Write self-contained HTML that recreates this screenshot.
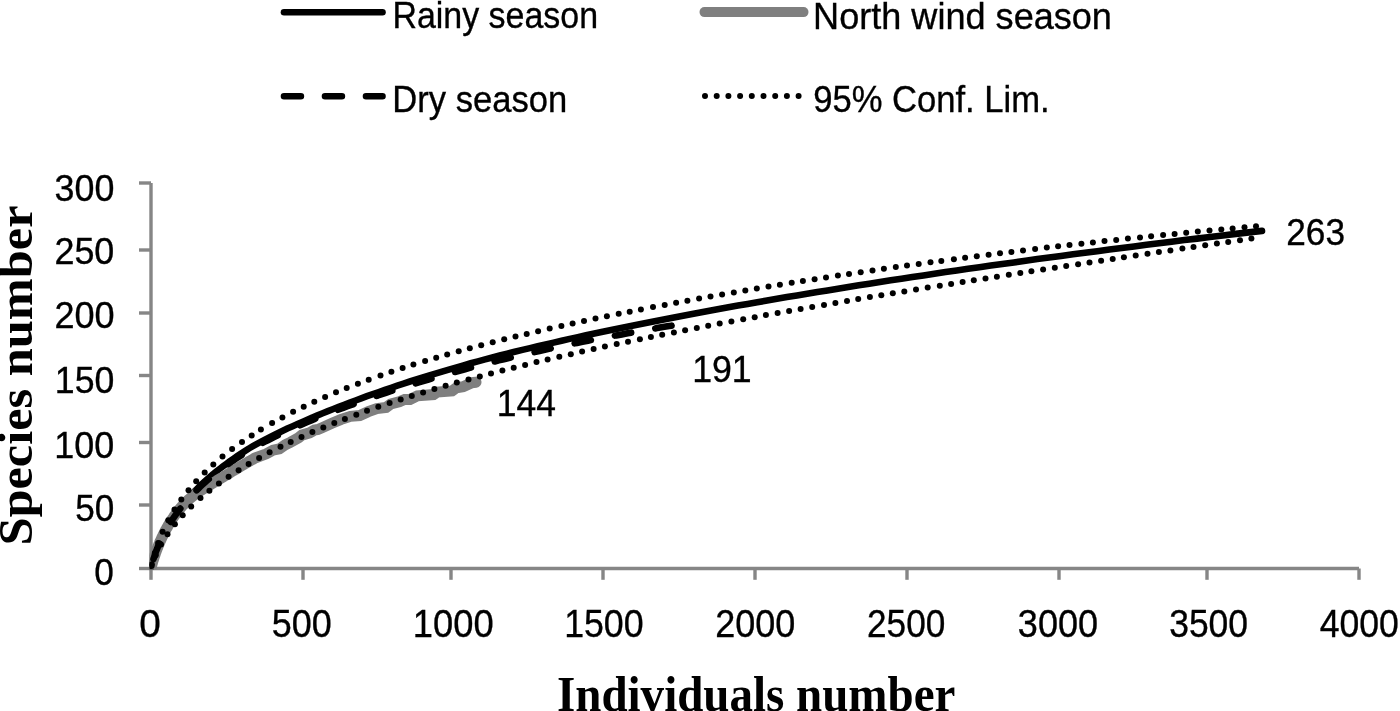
<!DOCTYPE html>
<html><head><meta charset="utf-8"><style>
html,body{margin:0;padding:0;background:#fff;width:1400px;height:711px;overflow:hidden}
svg{display:block;will-change:transform}
text{font-kerning:normal}
</style></head><body>
<svg width="1400" height="711" viewBox="0 0 1400 711">
<rect width="1400" height="711" fill="#fff"/>
<defs><clipPath id="pa"><rect x="149.5" y="100" width="1250" height="469.5"/></clipPath></defs>
<line x1="284" y1="12.3" x2="382.5" y2="12.3" stroke="#000" stroke-width="6.6" stroke-linecap="round"/>
<line x1="284" y1="96.3" x2="382.5" y2="96.3" stroke="#000" stroke-width="6.6" stroke-linecap="round" stroke-dasharray="16.9 24.1"/>
<line x1="704.5" y1="12.1" x2="803.5" y2="12.1" stroke="#7f7f7f" stroke-width="10" stroke-linecap="round"/>
<line x1="705" y1="96" x2="799" y2="96" stroke="#000" stroke-width="6" stroke-linecap="round" stroke-dasharray="0 11.7"/>
<g font-family='"Liberation Sans", sans-serif' fill='#000' stroke='#000' stroke-width='0.35'>
<text x='392.38' y='28.40' font-size='37.5' textLength='205.66' lengthAdjust='spacingAndGlyphs'>Rainy season</text>
<text x='392.34' y='112.20' font-size='37.5' textLength='174.80' lengthAdjust='spacingAndGlyphs'>Dry season</text>
<text x='813.11' y='28.60' font-size='37.5' textLength='298.84' lengthAdjust='spacingAndGlyphs'>North wind season</text>
<text x='813.17' y='112.00' font-size='37.5' textLength='236.57' lengthAdjust='spacingAndGlyphs'>95% Conf. Lim.</text>
<text x='139.15' y='637.30' font-size='39' textLength='21.55' lengthAdjust='spacingAndGlyphs'>0</text>
<text x='271.86' y='637.30' font-size='39' textLength='59.92' lengthAdjust='spacingAndGlyphs'>500</text>
<text x='412.79' y='637.30' font-size='39' textLength='80.83' lengthAdjust='spacingAndGlyphs'>1000</text>
<text x='564.14' y='637.30' font-size='39' textLength='79.45' lengthAdjust='spacingAndGlyphs'>1500</text>
<text x='715.20' y='637.30' font-size='39' textLength='80.16' lengthAdjust='spacingAndGlyphs'>2000</text>
<text x='866.99' y='637.30' font-size='39' textLength='78.33' lengthAdjust='spacingAndGlyphs'>2500</text>
<text x='1017.86' y='637.30' font-size='39' textLength='80.15' lengthAdjust='spacingAndGlyphs'>3000</text>
<text x='1169.18' y='637.30' font-size='39' textLength='78.90' lengthAdjust='spacingAndGlyphs'>3500</text>
<text x='1319.79' y='637.30' font-size='39' textLength='79.10' lengthAdjust='spacingAndGlyphs'>4000</text>
<text x='54.57' y='201.00' font-size='37.5' textLength='59.82' lengthAdjust='spacingAndGlyphs'>300</text>
<text x='54.40' y='263.50' font-size='37.5' textLength='59.98' lengthAdjust='spacingAndGlyphs'>250</text>
<text x='54.40' y='328.40' font-size='37.5' textLength='60.20' lengthAdjust='spacingAndGlyphs'>200</text>
<text x='54.85' y='393.00' font-size='37.5' textLength='59.53' lengthAdjust='spacingAndGlyphs'>150</text>
<text x='54.23' y='458.00' font-size='37.5' textLength='59.96' lengthAdjust='spacingAndGlyphs'>100</text>
<text x='75.19' y='520.80' font-size='37.5' textLength='39.09' lengthAdjust='spacingAndGlyphs'>50</text>
<text x='94.19' y='585.30' font-size='37.5' textLength='19.58' lengthAdjust='spacingAndGlyphs'>0</text>
<text x='496.86' y='416.00' font-size='37.5' textLength='59.15' lengthAdjust='spacingAndGlyphs'>144</text>
<text x='692.14' y='382.00' font-size='37.5' textLength='59.59' lengthAdjust='spacingAndGlyphs'>191</text>
<text x='1286.24' y='245.20' font-size='37.5' textLength='58.77' lengthAdjust='spacingAndGlyphs'>263</text>
</g>
<g font-family='"Liberation Serif", serif' font-weight='bold' fill='#000'>
<text x='556.99' y='710.50' font-size='50' textLength='398.41' lengthAdjust='spacingAndGlyphs'>Individuals number</text>
<text transform='translate(32.30,545.52) rotate(-90)' font-size='48' textLength='340.03' lengthAdjust='spacingAndGlyphs'>Species number</text>
</g>
<g stroke="#868686" stroke-width="3.4" fill="none">
<path d="M151,183 V568.5 H1359"/>
<path d="M151,568.5 V579.8"/>
<path d="M303,568.5 V579.8"/>
<path d="M451,568.5 V579.8"/>
<path d="M603,568.5 V579.8"/>
<path d="M755,568.5 V579.8"/>
<path d="M907,568.5 V579.8"/>
<path d="M1059,568.5 V579.8"/>
<path d="M1207,568.5 V579.8"/>
<path d="M1359,568.5 V579.8"/>
<path d="M139,568.5 H151"/>
<path d="M139,505 H151"/>
<path d="M139,442.5 H151"/>
<path d="M139,375.5 H151"/>
<path d="M139,313 H151"/>
<path d="M139,250 H151"/>
<path d="M139,183 H151"/>
</g>
<g clip-path="url(#pa)">
<path d="M151.0,568.0 L151.8,564.7 L152.7,561.5 L153.7,558.2 L154.8,555.0 L155.9,551.7 L157.1,548.5 L158.4,545.3 L159.8,542.2 L161.3,539.0 L162.8,535.8 L164.4,532.7 L166.1,529.6 L167.9,526.5 L169.7,523.4 L171.6,520.4 L173.6,517.3 L175.7,514.3 L177.8,511.3 L180.1,508.4 L182.4,505.4 L184.8,502.5 L187.2,499.5 L189.8,496.6 L192.4,493.7 L195.1,490.8 L197.9,488.0 L200.7,485.2 L203.7,482.4 L206.7,479.7 L209.8,477.0 L212.9,474.3 L216.2,471.7 L219.5,469.0 L222.9,466.4 L226.4,463.8 L229.9,461.2 L233.6,458.6 L237.3,456.1 L241.1,453.6 L245.0,451.0 L248.9,448.5 L252.9,446.2 L257.0,443.9 L261.2,441.6 L265.5,439.3 L269.8,437.1 L274.2,434.9 L278.7,432.7 L283.3,430.5 L287.9,428.3 L292.7,426.2 L297.5,424.1 L302.3,421.9 L307.3,419.7 L312.3,417.5 L317.5,415.4 L322.7,413.2 L327.9,411.1 L333.3,409.0 L338.7,406.9 L344.2,404.8 L349.8,402.7 L355.5,400.5 L361.2,398.4 L367.0,396.2 L372.9,394.1 L378.9,392.0 L384.9,389.9 L391.1,387.8 L397.3,385.7 L403.6,383.6 L409.9,381.5 L416.4,379.4 L422.9,377.4 L429.5,375.3 L436.2,373.3 L442.9,371.3 L449.7,369.3 L456.7,367.3 L463.6,365.3 L470.7,363.3 L477.9,361.4 L485.1,359.4 L492.4,357.5 L499.8,355.5 L507.2,353.6 L514.7,351.8 L522.4,349.9 L530.0,348.1 L537.8,346.2 L545.7,344.4 L553.6,342.6 L561.6,340.8 L569.7,338.9 L577.8,337.1 L586.0,335.3 L594.4,333.6 L602.7,331.8 L611.2,330.0 L619.8,328.2 L628.4,326.5 L637.1,324.7 L645.9,322.9 L654.7,321.2 L663.7,319.5 L672.7,317.7 L681.8,316.0 L690.9,314.2 L700.2,312.5 L709.5,310.8 L718.9,309.1 L728.4,307.3 L738.0,305.6 L747.6,303.9 L757.3,302.2 L767.1,300.5 L777.0,298.8 L786.9,297.1 L797.0,295.4 L807.1,293.7 L817.3,292.0 L827.5,290.4 L837.9,288.7 L848.3,287.0 L858.8,285.3 L869.3,283.7 L880.0,282.0 L890.7,280.3 L901.5,278.7 L912.4,277.0 L923.4,275.4 L934.4,273.8 L945.5,272.1 L956.7,270.5 L968.0,268.8 L979.4,267.2 L990.8,265.6 L1002.3,264.0 L1013.9,262.4 L1025.6,260.7 L1037.3,259.1 L1049.1,257.5 L1061.0,255.9 L1073.0,254.3 L1085.0,252.7 L1097.2,251.2 L1109.4,249.6 L1121.7,248.0 L1134.0,246.4 L1146.5,244.8 L1159.0,243.3 L1171.6,241.7 L1184.3,240.1 L1197.0,238.6 L1209.9,237.0 L1222.8,235.5 L1235.8,233.9 L1248.9,232.4 L1262.0,230.9" fill="none" stroke="#000" stroke-width="6.6" stroke-linecap="round" stroke-linejoin="round"/>
<path d="M151.0,568.0 L151.2,567.2 L151.4,566.3 L151.7,565.5 L151.9,564.7 L152.1,563.8 L152.4,563.0 L152.6,562.1 L152.9,561.3 L153.1,560.4 L153.4,559.6 L153.7,558.7 L153.9,557.9 L154.2,557.0 L154.5,556.1 L154.8,555.3 L155.1,554.4 L155.4,553.5 L155.7,552.6 L156.0,551.8 L156.3,550.9 L156.7,550.0 L157.0,549.2 L157.3,548.3 L157.7,547.4 L158.0,546.5 L158.4,545.7 L158.7,544.8 L159.1,543.9 L159.5,543.0 L159.8,542.2 L160.2,541.3 L160.6,540.4 L161.0,539.5 L161.4,538.7 L161.8,537.8 L162.2,536.9 L162.6,536.1 L163.0,535.2 L163.5,534.3 L163.9,533.5 L164.3,532.6 L164.8,531.7 L165.2,530.9 L165.7,530.0 L166.1,529.2 L166.6,528.3 L167.1,527.5 L167.6,526.7 L168.0,525.8 L168.5,525.0 L169.0,524.2 L169.5,523.3 L170.0,522.5 L170.5,521.7 L171.0,520.9 L171.6,520.1 L172.1,519.3 L172.6,518.5 L173.2,517.7 L173.7,516.9 L174.2,516.1 L174.8,515.3 L175.4,514.5 L175.9,513.8 L176.5,513.0 L177.1,512.3 L177.7,511.5 L178.2,510.8 L178.8,510.0 L179.4,509.3 L180.0,508.6 L180.6,507.9 L181.3,507.1 L181.9,506.4 L182.5,505.7 L183.1,505.1 L183.8,504.4 L184.4,503.7 L185.1,503.0 L185.7,502.4 L186.4,501.7 L187.0,501.1 L187.7,500.5 L188.4,499.8 L189.1,499.2 L189.8,498.6 L190.5,498.0 L191.2,497.4 L191.9,496.9 L192.6,496.3 L193.3,495.7 L194.0,495.2 L194.7,494.6 L195.5,494.1 L196.2,493.6 L196.9,493.0 L197.7,492.5 L198.4,492.0 L199.2,491.5 L200.0,491.0 L200.7,490.5 L201.5,490.0 L202.3,489.5 L203.1,489.0 L203.9,488.5 L204.7,488.0 L205.5,487.5 L206.3,487.0 L207.1,486.5 L207.9,486.0 L208.8,485.5 L209.6,485.1 L210.4,484.6 L211.3,484.1 L212.1,483.6 L213.0,483.0 L213.8,482.5 L214.7,482.0 L215.6,481.5 L216.5,481.0 L217.3,480.4 L218.2,479.9 L219.1,479.4 L220.0,478.8 L220.9,478.3 L221.8,477.7 L222.7,477.2 L223.7,476.6 L224.6,476.0 L225.5,475.5 L226.5,474.9 L227.4,474.3 L228.4,473.8 L229.3,473.2 L230.3,472.6 L231.2,472.0 L232.2,471.4 L233.2,470.8 L234.2,470.2 L235.2,469.6 L236.2,469.1 L237.2,468.5 L238.2,467.8 L239.2,467.2 L240.2,466.6 L241.2,466.0 L242.2,465.4 L243.3,464.8 L244.3,464.2 L245.4,463.6 L246.4,463.0 L247.5,462.4 L248.5,461.7 L249.6,461.1 L250.7,460.5 L251.7,459.9 L252.8,459.3 L253.9,458.7 L255.0,458.0 L266.4,453.8 L273.0,450.2 L279.4,448.9 L285.3,444.8 L290.3,442.3 L298.4,437.9 L301.9,435.1 L309.6,432.9 L314.5,430.1 L318.0,429.5 L322.6,427.5 L331.9,423.3 L341.2,419.4 L350.5,416.3 L359.8,415.5 L368.3,411.7 L376.8,408.6 L386.1,407.4 L390.7,404.0 L399.2,401.7 L404.6,399.4 L410.0,399.5 L417.4,395.8 L433.5,394.6 L437.2,392.1 L452.1,390.9 L456.4,387.8 L463.2,386.7 L471.9,382.7 L476.0,382.2" fill="none" stroke="#7f7f7f" stroke-width="11" stroke-linecap="round" stroke-linejoin="miter" stroke-miterlimit="2"/>
<path d="M151.0,568.0 L151.5,565.8 L152.1,563.6 L152.7,561.5 L153.4,559.3 L154.1,557.2 L154.8,555.0 L155.5,552.9 L156.3,550.7 L157.2,548.6 L158.0,546.5 L158.9,544.4 L159.8,542.3 L160.8,540.2 L161.8,538.1 L162.8,536.0 L163.9,533.9 L165.0,531.9 L166.1,529.8 L167.3,527.8 L168.5,525.7 L169.8,523.7 L171.0,521.7 L172.3,519.7 L173.7,517.7 L175.1,515.7 L176.5,513.7 L177.9,511.8 L179.4,509.8 L180.9,507.8 L182.5,505.9 L184.1,504.0 L185.7,502.0 L187.4,500.1 L189.1,498.2 L190.8,496.3 L192.6,494.4 L194.4,492.5 L196.2,490.6 L198.1,488.8 L200.0,486.9 L201.9,485.1 L203.9,483.3 L205.9,481.5 L207.9,479.8 L210.0,478.0 L212.1,476.3 L214.3,474.5 L216.4,472.8 L218.7,471.1 L220.9,469.4 L223.2,467.7 L225.5,466.0 L227.9,464.3 L230.3,462.6 L232.7,460.9 L235.1,459.3 L237.6,457.6 L240.2,456.0 L242.7,454.3 L245.3,452.7 L248.0,451.1 L250.6,449.5 L253.3,448.0 L256.1,446.4 L258.9,444.9 L261.7,443.4 L264.5,441.9 L267.4,440.5 L270.3,439.0 L273.2,437.5 L276.2,436.1 L279.2,434.6 L282.3,433.2 L285.4,431.7 L288.5,430.3 L291.7,428.9 L294.8,427.5 L298.1,426.1 L301.3,424.7 L304.6,423.3 L308.0,421.8 L311.3,420.4 L314.7,418.9 L318.2,417.5 L321.6,416.1 L325.1,414.7 L328.7,413.3 L332.2,411.9 L335.9,410.6 L339.5,409.2 L343.2,407.9 L346.9,406.5 L350.6,405.2 L354.4,403.8 L358.2,402.4 L362.1,401.0 L366.0,399.6 L369.9,398.2 L373.9,396.8 L377.9,395.5 L381.9,394.1 L385.9,392.8 L390.0,391.4 L394.2,390.1 L398.3,388.7 L402.5,387.4 L406.8,386.1 L411.0,384.8 L415.3,383.4 L419.7,382.1 L424.1,380.8 L428.5,379.5 L432.9,378.2 L437.4,376.9 L441.9,375.6 L446.5,374.3 L451.0,373.0 L455.7,371.8 L460.3,370.5 L465.0,369.2 L469.7,367.9 L474.5,366.7 L479.3,365.4 L484.1,364.2 L489.0,362.9 L493.9,361.7 L498.8,360.4 L503.8,359.2 L508.8,358.0 L513.8,356.8 L518.9,355.7 L524.0,354.5 L529.1,353.3 L534.3,352.1 L539.5,351.0 L544.7,349.8 L550.0,348.6 L555.3,347.5 L560.7,346.3 L566.1,345.2 L571.5,344.0 L577.0,342.9 L582.4,341.8 L588.0,340.7 L593.5,339.6 L599.1,338.6 L604.7,337.5 L610.4,336.5 L616.1,335.4 L621.8,334.4 L627.6,333.3 L633.4,332.3 L639.2,331.2 L645.1,330.2 L651.0,329.2 L657.0,328.1 L662.9,327.1 L669.0,326.1 L675.0,325.0" fill="none" stroke="#000" stroke-width="6.6" stroke-linecap="round" stroke-linejoin="round" stroke-dasharray="16.5 24.5" stroke-dashoffset="31.70"/>
<g fill="#000"><circle cx="151.8" cy="564.2" r="3.0"/><circle cx="154.8" cy="552.9" r="3.0"/><circle cx="158.1" cy="542.9" r="3.0"/><circle cx="162.6" cy="531.8" r="3.0"/><circle cx="168.3" cy="520.2" r="3.0"/><circle cx="174.5" cy="509.6" r="3.0"/><circle cx="181.3" cy="499.6" r="3.0"/><circle cx="188.5" cy="490.2" r="3.0"/><circle cx="196.2" cy="481.2" r="3.0"/><circle cx="204.7" cy="472.4" r="3.0"/><circle cx="213.3" cy="464.4" r="3.0"/><circle cx="222.5" cy="456.5" r="3.0"/><circle cx="232.1" cy="449.0" r="3.0"/><circle cx="242.0" cy="441.9" r="3.0"/><circle cx="251.7" cy="435.4" r="3.0"/><circle cx="260.9" cy="429.6" r="3.0"/><circle cx="272.1" cy="423.0" r="3.0"/><circle cx="282.4" cy="417.4" r="3.0"/><circle cx="293.1" cy="411.8" r="3.0"/><circle cx="303.7" cy="406.7" r="3.0"/><circle cx="314.3" cy="401.7" r="3.0"/><circle cx="325.1" cy="396.9" r="3.0"/><circle cx="336.0" cy="392.3" r="3.0"/><circle cx="346.7" cy="388.0" r="3.0"/><circle cx="357.9" cy="383.7" r="3.0"/><circle cx="368.7" cy="379.7" r="3.0"/><circle cx="380.5" cy="375.5" r="3.0"/><circle cx="391.4" cy="371.7" r="3.0"/><circle cx="402.6" cy="368.0" r="3.0"/><circle cx="413.4" cy="364.6" r="3.0"/><circle cx="425.1" cy="361.0" r="3.0"/><circle cx="436.2" cy="357.7" r="3.0"/><circle cx="447.2" cy="354.5" r="3.0"/><circle cx="458.7" cy="351.3" r="3.0"/><circle cx="469.8" cy="348.2" r="3.0"/><circle cx="481.2" cy="345.2" r="3.0"/><circle cx="492.7" cy="342.2" r="3.0"/><circle cx="504.2" cy="339.3" r="3.0"/><circle cx="515.5" cy="336.5" r="3.0"/><circle cx="526.7" cy="333.9" r="3.0"/><circle cx="538.1" cy="331.2" r="3.0"/><circle cx="549.7" cy="328.6" r="3.0"/><circle cx="561.4" cy="325.9" r="3.0"/><circle cx="572.6" cy="323.5" r="3.0"/><circle cx="584.0" cy="321.0" r="3.0"/><circle cx="595.5" cy="318.6" r="3.0"/><circle cx="606.9" cy="316.2" r="3.0"/><circle cx="618.7" cy="313.8" r="3.0"/><circle cx="629.7" cy="311.7" r="3.0"/><circle cx="640.9" cy="309.5" r="3.0"/><circle cx="653.0" cy="307.1" r="3.0"/><circle cx="664.7" cy="304.9" r="3.0"/><circle cx="676.1" cy="302.8" r="3.0"/><circle cx="687.4" cy="300.7" r="3.0"/><circle cx="699.1" cy="298.6" r="3.0"/><circle cx="710.5" cy="296.5" r="3.0"/><circle cx="722.1" cy="294.5" r="3.0"/><circle cx="733.8" cy="292.5" r="3.0"/><circle cx="745.3" cy="290.5" r="3.0"/><circle cx="756.8" cy="288.5" r="3.0"/><circle cx="768.5" cy="286.6" r="3.0"/><circle cx="779.9" cy="284.7" r="3.0"/><circle cx="791.7" cy="282.8" r="3.0"/><circle cx="802.9" cy="281.0" r="3.0"/><circle cx="814.6" cy="279.2" r="3.0"/><circle cx="826.0" cy="277.4" r="3.0"/><circle cx="837.9" cy="275.6" r="3.0"/><circle cx="849.0" cy="273.9" r="3.0"/><circle cx="860.7" cy="272.2" r="3.0"/><circle cx="872.5" cy="270.5" r="3.0"/><circle cx="883.9" cy="268.8" r="3.0"/><circle cx="895.8" cy="267.1" r="3.0"/><circle cx="907.0" cy="265.5" r="3.0"/><circle cx="918.7" cy="263.9" r="3.0"/><circle cx="930.5" cy="262.3" r="3.0"/><circle cx="941.3" cy="260.9" r="3.0"/><circle cx="953.9" cy="259.2" r="3.0"/><circle cx="965.1" cy="257.7" r="3.0"/><circle cx="976.8" cy="256.2" r="3.0"/><circle cx="988.6" cy="254.7" r="3.0"/><circle cx="1000.0" cy="253.3" r="3.0"/><circle cx="1011.4" cy="251.9" r="3.0"/><circle cx="1023.0" cy="250.5" r="3.0"/><circle cx="1035.1" cy="249.0" r="3.0"/><circle cx="1046.8" cy="247.6" r="3.0"/><circle cx="1058.1" cy="246.3" r="3.0"/><circle cx="1069.5" cy="245.0" r="3.0"/><circle cx="1081.4" cy="243.7" r="3.0"/><circle cx="1092.9" cy="242.4" r="3.0"/><circle cx="1104.5" cy="241.1" r="3.0"/><circle cx="1116.2" cy="239.9" r="3.0"/><circle cx="1127.9" cy="238.6" r="3.0"/><circle cx="1140.0" cy="237.4" r="3.0"/><circle cx="1151.1" cy="236.2" r="3.0"/><circle cx="1163.1" cy="235.0" r="3.0"/><circle cx="1174.6" cy="233.9" r="3.0"/><circle cx="1186.2" cy="232.7" r="3.0"/><circle cx="1197.8" cy="231.6" r="3.0"/><circle cx="1209.5" cy="230.5" r="3.0"/><circle cx="1221.3" cy="229.4" r="3.0"/><circle cx="1232.6" cy="228.4" r="3.0"/><circle cx="1244.5" cy="227.3" r="3.0"/><circle cx="1256.0" cy="226.3" r="3.0"/><circle cx="151.6" cy="566.1" r="3.0"/><circle cx="155.7" cy="555.2" r="3.0"/><circle cx="161.0" cy="544.6" r="3.0"/><circle cx="167.5" cy="534.2" r="3.0"/><circle cx="174.9" cy="524.3" r="3.0"/><circle cx="182.7" cy="515.2" r="3.0"/><circle cx="191.2" cy="506.6" r="3.0"/><circle cx="200.5" cy="498.1" r="3.0"/><circle cx="209.4" cy="490.8" r="3.0"/><circle cx="218.9" cy="483.5" r="3.0"/><circle cx="228.6" cy="476.7" r="3.0"/><circle cx="238.6" cy="470.2" r="3.0"/><circle cx="248.6" cy="464.0" r="3.0"/><circle cx="259.1" cy="458.1" r="3.0"/><circle cx="269.6" cy="452.3" r="3.0"/><circle cx="280.5" cy="446.8" r="3.0"/><circle cx="290.7" cy="441.9" r="3.0"/><circle cx="301.5" cy="436.9" r="3.0"/><circle cx="312.4" cy="432.1" r="3.0"/><circle cx="323.3" cy="427.5" r="3.0"/><circle cx="334.3" cy="423.0" r="3.0"/><circle cx="344.9" cy="418.9" r="3.0"/><circle cx="356.3" cy="414.7" r="3.0"/><circle cx="367.0" cy="410.8" r="3.0"/><circle cx="378.3" cy="406.8" r="3.0"/><circle cx="389.6" cy="403.0" r="3.0"/><circle cx="400.7" cy="399.4" r="3.0"/><circle cx="411.8" cy="395.9" r="3.0"/><circle cx="423.1" cy="392.4" r="3.0"/><circle cx="434.4" cy="389.1" r="3.0"/><circle cx="445.6" cy="385.8" r="3.0"/><circle cx="456.8" cy="382.6" r="3.0"/><circle cx="468.5" cy="379.4" r="3.0"/><circle cx="479.8" cy="376.4" r="3.0"/><circle cx="491.0" cy="373.4" r="3.0"/><circle cx="502.4" cy="370.5" r="3.0"/><circle cx="513.7" cy="367.7" r="3.0"/><circle cx="525.1" cy="364.9" r="3.0"/><circle cx="536.5" cy="362.1" r="3.0"/><circle cx="547.6" cy="359.5" r="3.0"/><circle cx="559.3" cy="356.8" r="3.0"/><circle cx="570.8" cy="354.2" r="3.0"/><circle cx="582.1" cy="351.6" r="3.0"/><circle cx="593.6" cy="349.1" r="3.0"/><circle cx="604.9" cy="346.6" r="3.0"/><circle cx="616.7" cy="344.1" r="3.0"/><circle cx="628.0" cy="341.8" r="3.0"/><circle cx="639.9" cy="339.3" r="3.0"/><circle cx="650.9" cy="337.1" r="3.0"/><circle cx="662.2" cy="334.8" r="3.0"/><circle cx="673.9" cy="332.5" r="3.0"/><circle cx="685.1" cy="330.3" r="3.0"/><circle cx="696.8" cy="328.0" r="3.0"/><circle cx="708.2" cy="325.8" r="3.0"/><circle cx="719.7" cy="323.6" r="3.0"/><circle cx="731.4" cy="321.5" r="3.0"/><circle cx="743.2" cy="319.3" r="3.0"/><circle cx="754.7" cy="317.2" r="3.0"/><circle cx="765.9" cy="315.1" r="3.0"/><circle cx="777.6" cy="313.0" r="3.0"/><circle cx="789.1" cy="311.0" r="3.0"/><circle cx="800.6" cy="309.0" r="3.0"/><circle cx="812.2" cy="306.9" r="3.0"/><circle cx="824.0" cy="304.9" r="3.0"/><circle cx="835.4" cy="302.9" r="3.0"/><circle cx="847.0" cy="301.0" r="3.0"/><circle cx="858.2" cy="299.1" r="3.0"/><circle cx="869.9" cy="297.1" r="3.0"/><circle cx="881.3" cy="295.2" r="3.0"/><circle cx="892.8" cy="293.3" r="3.0"/><circle cx="904.3" cy="291.4" r="3.0"/><circle cx="916.0" cy="289.5" r="3.0"/><circle cx="927.7" cy="287.6" r="3.0"/><circle cx="939.8" cy="285.7" r="3.0"/><circle cx="951.1" cy="283.9" r="3.0"/><circle cx="962.6" cy="282.1" r="3.0"/><circle cx="973.8" cy="280.3" r="3.0"/><circle cx="985.5" cy="278.4" r="3.0"/><circle cx="996.9" cy="276.7" r="3.0"/><circle cx="1008.8" cy="274.8" r="3.0"/><circle cx="1020.3" cy="273.0" r="3.0"/><circle cx="1031.4" cy="271.3" r="3.0"/><circle cx="1043.1" cy="269.5" r="3.0"/><circle cx="1054.8" cy="267.7" r="3.0"/><circle cx="1066.2" cy="266.0" r="3.0"/><circle cx="1078.1" cy="264.2" r="3.0"/><circle cx="1089.5" cy="262.4" r="3.0"/><circle cx="1101.1" cy="260.7" r="3.0"/><circle cx="1112.7" cy="259.0" r="3.0"/><circle cx="1123.9" cy="257.3" r="3.0"/><circle cx="1135.7" cy="255.5" r="3.0"/><circle cx="1147.5" cy="253.8" r="3.0"/><circle cx="1158.9" cy="252.1" r="3.0"/><circle cx="1170.4" cy="250.4" r="3.0"/><circle cx="1182.4" cy="248.6" r="3.0"/><circle cx="1193.5" cy="247.0" r="3.0"/><circle cx="1205.2" cy="245.3" r="3.0"/><circle cx="1216.9" cy="243.5" r="3.0"/><circle cx="1228.2" cy="241.9" r="3.0"/><circle cx="1240.0" cy="240.2" r="3.0"/><circle cx="1251.4" cy="238.5" r="3.0"/></g>
</g>
</svg>
</body></html>
